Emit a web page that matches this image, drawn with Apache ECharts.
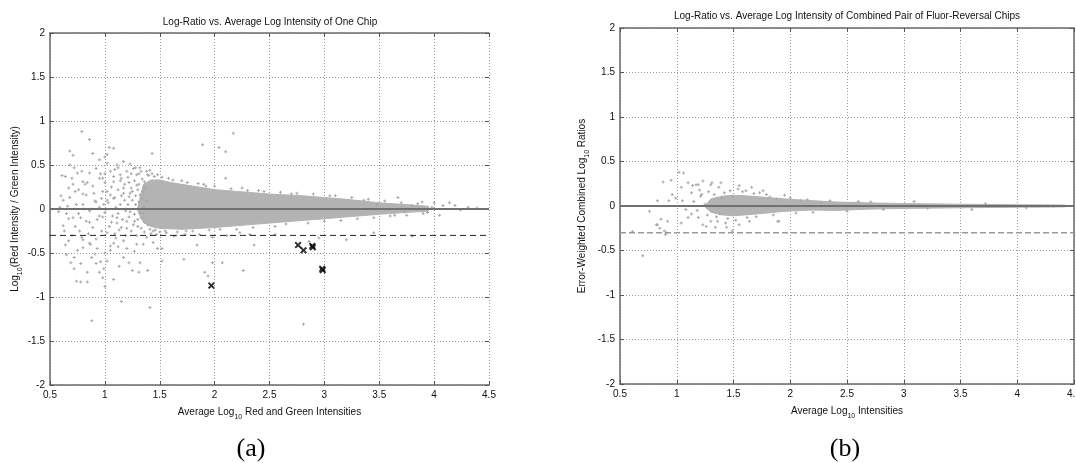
<!DOCTYPE html>
<html>
<head>
<meta charset="utf-8">
<script src="https://cdn.jsdelivr.net/npm/echarts@6/dist/echarts.min.js"></script>
<style>html,body{margin:0;padding:0;background:#fff}#c{width:1076px;height:463px}</style>
</head>
<body>
<div id="c"></div>
<script>
// ---- axis ticks ----
const xTicks = [0.5, 1, 1.5, 2, 2.5, 3, 3.5, 4, 4.5];
const yTicks = [-2, -1.5, -1, -0.5, 0, 0.5, 1, 1.5, 2];

// ---- panel (a): dense core envelope of the scatter cloud ----
const leftCoreUpper = [[1.30,0.02],[1.35,0.28],[1.42,0.33],[1.50,0.33],[1.60,0.30],[1.80,0.26],[2.00,0.22],[2.20,0.20],[2.50,0.17],[2.80,0.15],[3.00,0.13],[3.20,0.11],[3.50,0.07],[3.80,0.045],[3.95,0.03]];
const leftCoreLower = [[1.30,-0.02],[1.35,-0.15],[1.42,-0.20],[1.50,-0.22],[1.70,-0.23],[2.00,-0.21],[2.30,-0.18],[2.50,-0.16],[2.80,-0.13],[3.00,-0.11],[3.20,-0.09],[3.50,-0.06],[3.80,-0.035],[3.95,-0.025]];
// ---- panel (a): individual scattered points ----
const leftPoints = [
[0.79,0.88],[0.86,0.79],[0.68,0.66],[0.71,0.61],[0.89,0.63],[0.61,0.38],[1.43,0.63],[2.17,0.86],[1.89,0.73],[2.04,0.70],[2.10,0.65],[1.04,0.70],[1.08,0.69],[1.02,0.62],[1.00,0.59],[0.95,0.56],[1.17,0.54],[1.23,0.51],[1.28,0.47],[1.12,0.47],[1.33,0.43],[1.39,0.39],[0.72,0.47],[0.75,0.41],[0.80,0.31],[0.67,0.24],[0.73,0.20],[0.83,0.16],[0.89,0.26],[0.98,0.35],[1.05,0.43],[1.08,0.31],[1.14,0.39],[0.92,0.08],[0.80,0.05],[0.66,0.03],[0.58,-0.03],[0.95,0.02],[1.17,0.24],[1.23,0.18],[1.36,0.31],[1.31,0.08],[1.08,0.12],[1.02,0.20],[0.67,-0.11],[0.78,-0.10],[0.86,-0.15],[0.98,-0.09],[1.11,-0.16],[1.22,-0.09],[1.36,-0.15],
[4.31,0.02],[4.39,0.01],[4.14,0.07],[4.08,0.04],[4.00,0.07],[4.19,0.04],[3.67,0.13],[3.89,0.08],[3.80,0.04],[3.94,-0.04],[4.05,-0.07],[3.64,-0.07],[3.48,0.05],[3.55,-0.01],[3.73,-0.03],[4.24,-0.01],[3.98,0.02],
[0.64,-0.41],[0.69,-0.61],[0.72,-0.55],[0.75,-0.47],[0.80,-0.35],[0.78,-0.62],[0.74,-0.82],[0.78,-0.83],[0.84,-0.83],[0.88,-1.27],[0.84,-0.72],[0.86,-0.39],[0.91,-0.51],[0.92,-0.62],[0.95,-0.72],[0.98,-0.78],[0.99,-0.68],[1.02,-0.59],[1.05,-0.47],[1.08,-0.39],[1.12,-0.43],[1.17,-0.55],[1.22,-0.61],[1.15,-1.05],[1.25,-0.70],[1.31,-0.72],[1.32,-0.61],[1.39,-0.70],[1.41,-1.12],[1.52,-0.59],[1.52,-0.45],[1.63,-0.31],[1.72,-0.57],[1.73,-0.29],[1.84,-0.41],[1.91,-0.72],[1.94,-0.76],[1.98,-0.61],[2.07,-0.61],[2.26,-0.70],[2.36,-0.41],[2.81,-1.31],[2.55,-0.29],[2.86,-0.37],[2.95,-0.33],[3.20,-0.35],[3.45,-0.27],[3.80,-0.31],
[0.62,-0.19],[0.71,-0.10],[0.77,-0.25],[0.83,-0.14],[0.89,-0.21],[0.95,-0.08],[1.02,-0.27],[1.06,-0.15],[1.11,-0.10],[1.15,-0.21],[1.20,-0.14],[1.24,-0.25],[1.27,-0.06],[0.86,-0.02],[0.74,0.05],[0.68,0.13],[0.80,0.17],[0.91,0.09],[0.98,0.20],[1.03,0.07],[1.09,0.13],[1.17,0.18],[1.21,0.05],[1.24,0.24],[1.14,0.32],[1.08,0.37],[0.95,0.35],[0.86,0.41],[0.71,0.28],[0.64,0.37],[1.20,0.43],[1.29,0.39],[1.11,0.50],[1.02,0.52],[0.79,0.43],[0.59,0.02],[0.67,-0.36],[0.80,-0.44],[0.92,-0.34],[1.05,-0.42],[1.17,-0.36],[1.29,-0.40],[1.38,-0.32],[1.41,-0.23],[1.47,-0.29],[1.56,-0.27],[1.65,-0.30],[1.74,-0.25],[1.86,-0.29],[1.98,-0.32],[2.11,-0.30],[2.23,-0.27],[2.32,-0.29],[1.32,0.47],[1.38,0.43],
[2.10,0.35],[1.92,0.26],[2.25,0.24],[2.45,0.20],[2.70,0.17],[3.05,0.15],[3.36,0.10],
[1.25,0.10],[1.28,0.15],[1.30,0.22],[1.32,-0.05],[1.34,0.12],[1.26,-0.18],[1.30,-0.12],[1.33,-0.22],[1.19,-0.02],[1.14,0.05],[1.12,-0.05],[1.00,-0.04],[0.97,0.12],[1.06,0.25],[1.18,0.10],[1.22,0.30],[1.27,0.32],[1.31,0.28],[1.35,0.20],[1.35,-0.05],[1.29,-0.30],[1.19,-0.30],[1.09,-0.28],[0.93,-0.45],[1.00,-0.50],[1.10,-0.33],[1.27,-0.48],[1.35,-0.40],[1.44,-0.38],[1.48,-0.45],[0.70,-0.30],[0.63,-0.25],[0.85,-0.28],[0.88,0.00],[0.76,-0.05],[0.82,0.28],[0.92,0.46],[1.00,0.30],[1.15,0.15],[1.24,0.40],[0.68,0.50],[0.60,0.15],[0.65,-0.52],[0.72,-0.68],[0.88,-0.55],[0.96,-0.60],[1.13,-0.65],[1.20,-0.45],[1.08,-0.80],[1.00,-0.88],
[1.00,0.40],[1.02,0.10],[1.04,-0.20],[1.05,0.16],[1.07,-0.08],[1.09,0.45],[1.10,0.02],[1.12,0.22],[1.13,-0.24],[1.15,0.35],[1.16,-0.12],[1.18,0.28],[1.19,0.00],[1.20,-0.22],[1.21,0.36],[1.22,0.14],[1.23,-0.03],[1.25,0.20],[1.26,0.46],[1.27,-0.14],[1.28,0.05],[1.29,0.27],[1.30,-0.20],[1.31,0.40],[1.32,0.16],[1.33,-0.10],[1.34,0.34],[1.35,0.02],[1.36,-0.26],[1.37,0.24],[1.38,0.10],[1.39,-0.18],[1.40,0.38],[1.41,0.44],[1.42,-0.28],[1.43,0.40],[1.44,-0.25],[1.45,0.37],[1.46,-0.24],[1.48,0.39],[1.50,-0.26],[1.52,0.36],[1.55,-0.25],[1.58,0.35],[1.62,0.33],[1.66,-0.26],[1.70,0.32],[1.75,0.30],[1.80,-0.25],[1.85,0.29],[1.90,0.28],[1.95,-0.24],[2.00,0.26],[2.05,-0.23],[2.15,0.23],[2.20,-0.23],[2.30,0.21],[2.35,-0.21],[2.40,0.21],[2.55,-0.20],[2.60,0.19],[2.65,-0.17],[2.75,0.18],[2.85,-0.16],[2.90,0.17],[3.00,-0.14],[3.10,0.15],[3.15,-0.13],[3.25,0.13],[3.30,-0.11],[3.40,0.11],[3.45,-0.10],[3.55,0.09],[3.60,-0.08],[3.70,0.07],[3.75,-0.07],[3.85,0.06],[3.90,-0.05],
[0.62,0.10],[0.65,-0.05],[0.70,0.35],[0.73,-0.20],[0.76,0.22],[0.79,-0.32],[0.81,0.00],[0.84,0.30],[0.87,-0.40],[0.90,0.18],[0.93,-0.12],[0.96,0.40],[0.97,-0.25],[0.99,0.05]
];
// ---- panel (a): highlighted (black x) genes ----
const markedPoints = [[1.97,-0.87],[2.76,-0.41],[2.81,-0.47],[2.89,-0.42],[2.895,-0.435],[2.98,-0.68],[2.985,-0.695]];

// ---- panel (b): dense core envelope ----
const rightCoreUpper = [[1.25,0.00],[1.30,0.08],[1.40,0.11],[1.50,0.12],[1.60,0.115],[1.75,0.10],[1.90,0.085],[2.00,0.075],[2.20,0.06],[2.40,0.045],[2.70,0.035],[3.00,0.027],[3.50,0.02],[4.00,0.014],[4.42,0.01]];
const rightCoreLower = [[1.25,-0.01],[1.30,-0.07],[1.40,-0.10],[1.50,-0.11],[1.60,-0.10],[1.75,-0.085],[1.90,-0.065],[2.00,-0.056],[2.20,-0.045],[2.40,-0.05],[2.70,-0.035],[3.00,-0.027],[3.50,-0.02],[4.00,-0.014],[4.42,-0.01]];
// ---- panel (b): scattered points ----
const rightPoints = [
[0.76,-0.06],[0.88,0.27],[0.95,0.29],[1.02,0.38],[1.06,0.37],[0.96,0.13],[0.93,0.06],[0.83,0.06],[0.86,-0.15],[0.83,-0.21],[0.92,-0.17],[0.89,-0.28],[0.70,-0.56],[0.90,-0.32],[0.61,-0.29],
[1.04,0.21],[1.10,0.26],[1.14,0.23],[1.19,0.24],[1.23,0.28],[1.31,0.26],[1.37,0.21],[1.13,0.15],[1.22,0.13],[1.05,0.06],[1.08,-0.04],[1.13,-0.09],[1.19,-0.13],[1.23,-0.21],[1.30,-0.17],[1.34,-0.24],[1.43,-0.19],[1.49,-0.28],[1.55,-0.21],[1.64,-0.17],[1.90,-0.17],[1.73,0.15],[1.79,0.13],[1.88,0.08],[1.95,0.12],[1.49,0.11],[1.40,0.09],[1.61,0.17],[1.55,0.23],[2.09,0.06],[2.27,0.04],[2.71,0.045],[3.09,0.05],[2.82,-0.04],[3.21,-0.026],[3.72,0.026],[4.08,-0.02],[4.26,0.004],[4.32,0.0],[3.60,-0.04],
[0.82,-0.21],[0.85,-0.25],[0.91,-0.30],[0.99,0.09],[1.04,-0.19],[1.10,-0.13],[1.17,0.24],[1.21,0.11],[1.26,-0.23],[1.30,0.24],[1.36,-0.17],[1.44,-0.24],[1.66,0.21],[1.76,0.17],[1.89,-0.17],[1.54,0.19],[1.39,0.26],
[1.15,0.05],[1.18,-0.05],[1.20,0.18],[1.25,0.02],[1.27,-0.10],[1.28,0.16],[1.33,0.13],[1.35,-0.12],[1.38,-0.09],[1.42,0.15],[1.45,-0.14],[1.47,0.17],[1.52,-0.16],[1.58,0.16],[1.62,-0.13],[1.68,0.14],[1.70,-0.12],[1.82,0.10],[1.85,-0.10],[2.00,0.09],[2.05,-0.08],[2.15,0.07],[2.20,-0.07],[2.35,0.06],[2.50,-0.06],[2.60,0.05]
];

// ---- reference lines ----
const zeroLine = [[0.5, 0], [4.5, 0]];
const cutoffLine = [[0.5, -0.3], [4.5, -0.3]];

// ---- text ----
const titleA = 'Log-Ratio vs. Average Log Intensity of One Chip';
const titleB = 'Log-Ratio vs. Average Log Intensity of Combined Pair of Fluor-Reversal Chips';
const xNameA = '{n|Average Log}{s|10}{n| Red and Green Intensities}';
const yNameA = '{n|Log}{s|10}{n|(Red Intensity / Green Intensity)}';
const xNameB = '{n|Average Log}{s|10}{n| Intensities}';
const yNameB = '{n|Error-Weighted Combined Log}{s|10}{n| Ratios}';

const FONT = '"Liberation Sans", Arial, Helvetica, sans-serif';
const GRAY = '#b3b3b3';
const plusSym = 'path://M1,0H2V1H3V2H2V3H1V2H0V1H1Z';
const xSym = 'path://M0,2L2,0L5,3L8,0L10,2L7,5L10,8L8,10L5,7L2,10L0,8L3,5Z';

const rich = {
  n: {fontSize: 10, fontFamily: FONT, color: '#111', lineHeight: 14, verticalAlign: 'top'},
  s: {fontSize: 7, fontFamily: FONT, color: '#111', lineHeight: 14, verticalAlign: 'bottom'}
};

function mainX(grid, name) {
  return {
    type: 'value', gridIndex: grid, position: 'bottom', min: xTicks[0], max: xTicks[xTicks.length - 1], interval: 0.5,
    name: name, nameLocation: 'middle', nameGap: 22, nameTextStyle: {rich: rich},
    axisLine: {show: true, onZero: false, lineStyle: {color: '#6a6a6a', width: 1.5}},
    axisTick: {show: true, inside: true, length: 4, lineStyle: {color: '#555'}},
    axisLabel: {color: '#111', fontSize: 10, fontFamily: FONT, margin: 5},
    splitLine: {show: true, lineStyle: {color: '#9a9a9a', width: 1, type: [1, 2]}}
  };
}
function topX(grid) {
  return {
    type: 'value', gridIndex: grid, position: 'top', min: xTicks[0], max: xTicks[xTicks.length - 1], interval: 0.5,
    axisLine: {show: true, onZero: false, lineStyle: {color: '#6a6a6a', width: 1.5}},
    axisTick: {show: true, inside: true, length: 4, lineStyle: {color: '#555'}},
    axisLabel: {show: false}, splitLine: {show: false}
  };
}
function mainY(grid, name, gap) {
  return {
    type: 'value', gridIndex: grid, position: 'left', min: yTicks[0], max: yTicks[yTicks.length - 1], interval: 0.5,
    name: name, nameLocation: 'middle', nameGap: gap, nameRotate: 90, nameTextStyle: {rich: rich},
    axisLine: {show: true, onZero: false, lineStyle: {color: '#6a6a6a', width: 1.5}},
    axisTick: {show: true, inside: true, length: 4, lineStyle: {color: '#555'}},
    axisLabel: {color: '#111', fontSize: 10, fontFamily: FONT, margin: 5},
    splitLine: {show: true, lineStyle: {color: '#9a9a9a', width: 1, type: [1, 2]}}
  };
}
function rightY(grid, showLine) {
  return {
    type: 'value', gridIndex: grid, position: 'right', min: yTicks[0], max: yTicks[yTicks.length - 1], interval: 0.5,
    axisLine: {show: showLine, onZero: false, lineStyle: {color: '#6a6a6a', width: 1.5}},
    axisTick: {show: true, inside: true, length: 4, lineStyle: {color: '#555'}},
    axisLabel: {show: false}, splitLine: {show: false}
  };
}
function core(upper, lower, xi, yi) {
  return {
    type: 'custom', xAxisIndex: xi, yAxisIndex: yi, silent: true, z: 2, data: [[upper[0][0], upper[0][1]]],
    renderItem: function (params, api) {
      const pts = upper.concat(lower.slice().reverse()).map(function (p) { return api.coord(p); });
      return {type: 'polygon', shape: {points: pts}, style: {fill: GRAY, stroke: GRAY, lineWidth: 1}};
    }
  };
}
function pts(data, xi, yi) {
  return {type: 'scatter', xAxisIndex: xi, yAxisIndex: yi, data: data, symbol: plusSym, symbolSize: 3, silent: true, z: 3,
    itemStyle: {color: '#a8a8a8', opacity: 1}};
}
function hline(data, xi, yi, style) {
  return {type: 'line', xAxisIndex: xi, yAxisIndex: yi, data: data, symbol: 'none', silent: true, z: 5, lineStyle: style};
}

const chart = echarts.init(document.getElementById('c'), null, {renderer: 'canvas'});
chart.setOption({
  animation: false,
  backgroundColor: '#fff',
  grid: [
    {left: 50, top: 33, width: 439, height: 352, outerBoundsMode: 'none', containLabel: false},
    {left: 620, top: 28, width: 454, height: 356, outerBoundsMode: 'none', containLabel: false}
  ],
  xAxis: [mainX(0, xNameA), topX(0), mainX(1, xNameB), topX(1)],
  yAxis: [mainY(0, yNameA, 26), rightY(0, false), mainY(1, yNameB, 29), rightY(1, true)],
  graphic: [
    {type: 'text', x: 270, y: 22, style: {text: titleA, font: '10px ' + FONT, fill: '#111', align: 'center', verticalAlign: 'middle', textAlign: 'center', textVerticalAlign: 'middle'}},
    {type: 'text', x: 847, y: 16, style: {text: titleB, font: '10px ' + FONT, fill: '#111', align: 'center', verticalAlign: 'middle', textAlign: 'center', textVerticalAlign: 'middle'}},
    {type: 'text', x: 251, y: 449, style: {text: '(a)', font: '26px "Liberation Serif", "Times New Roman", serif', fill: '#000', align: 'center', verticalAlign: 'middle', textAlign: 'center', textVerticalAlign: 'middle'}},
    {type: 'text', x: 845, y: 449, style: {text: '(b)', font: '26px "Liberation Serif", "Times New Roman", serif', fill: '#000', align: 'center', verticalAlign: 'middle', textAlign: 'center', textVerticalAlign: 'middle'}}
  ],
  series: [
    core(leftCoreUpper, leftCoreLower, 0, 0),
    pts(leftPoints, 0, 0),
    hline(zeroLine, 0, 0, {color: '#707070', width: 2}),
    hline(cutoffLine, 0, 0, {color: '#222', width: 1, type: [6, 4]}),
    {type: 'scatter', xAxisIndex: 0, yAxisIndex: 0, data: markedPoints, symbol: xSym, symbolSize: 7, silent: true, z: 6, itemStyle: {color: '#000'}},
    core(rightCoreUpper, rightCoreLower, 2, 2),
    pts(rightPoints, 2, 2),
    hline(zeroLine, 2, 2, {color: '#707070', width: 2}),
    hline(cutoffLine, 2, 2, {color: '#9a9a9a', width: 1.5, type: [6, 3]})
  ]
});
</script>
</body>
</html>
